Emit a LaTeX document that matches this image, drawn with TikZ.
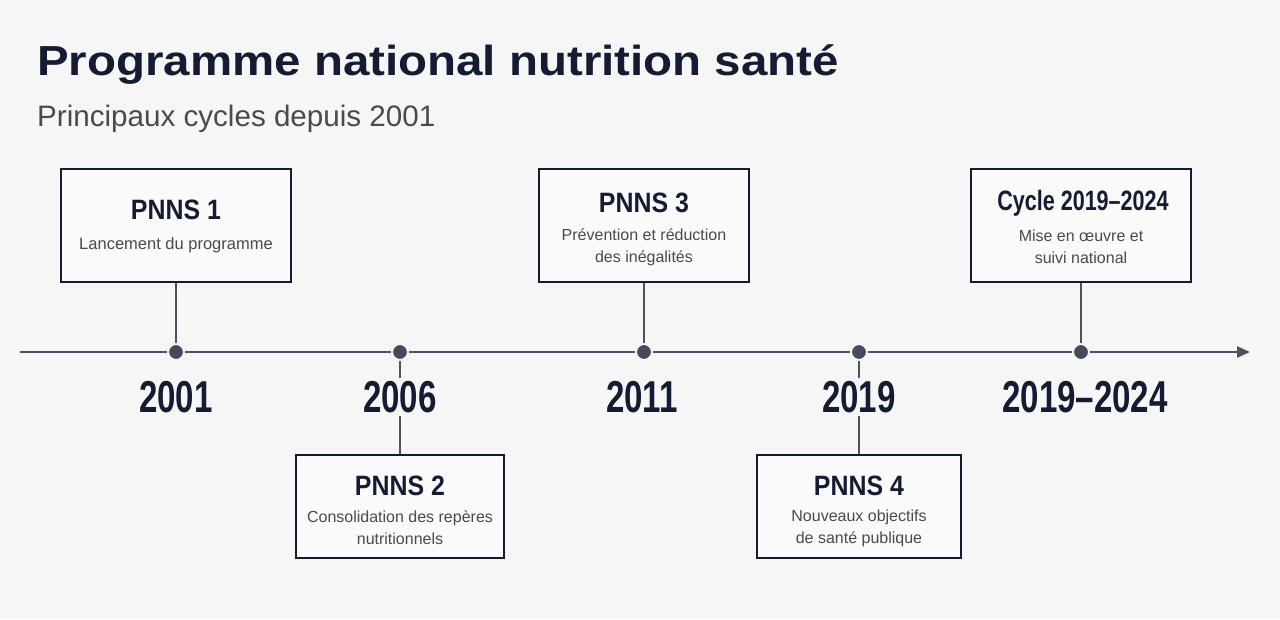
\documentclass[tikz,border=0pt]{standalone}
\usepackage{fontspec}
\setmainfont{Liberation Sans}
\newfontfamily\headfont{Liberation Sans}[FakeStretch=1.13]
\newfontfamily\condfont{Liberation Sans}[FakeStretch=0.89]
\newfontfamily\narrowfont{Liberation Sans}[FakeStretch=0.77]
\newfontfamily\yearfont{Liberation Sans}[FakeStretch=0.74]
\usetikzlibrary{arrows.meta}
\definecolor{bg}{HTML}{F6F6F7}
\definecolor{boxbg}{HTML}{FAFAFB}
\definecolor{navy}{HTML}{141B33}
\definecolor{greytext}{HTML}{4A4A4C}
\definecolor{axisgrey}{HTML}{4D525C}
\definecolor{dotgrey}{HTML}{454B5E}
\tikzset{
  box/.style={draw=navy, line width=1.8pt, fill=boxbg, inner sep=0pt},
  boxtitle/.style={text=navy, font=\condfont\bfseries\fontsize{28}{32}\selectfont, inner sep=0pt},
  boxtext/.style={text=greytext, font=\fontsize{16}{22}\selectfont, align=center, inner sep=0pt},
  year/.style={text=navy, font=\yearfont\bfseries\fontsize{44.7}{50}\selectfont, fill=bg, inner sep=3pt},
  dot/.style={circle, fill=dotgrey, draw=bg, line width=2pt, minimum size=16pt, inner sep=0pt},
  axis/.style={draw=axisgrey, line width=2.6pt},
  link/.style={draw=axisgrey, line width=1.8pt}
}
\begin{document}
\begin{tikzpicture}[x=1pt,y=-1pt]
\fill[bg] (0,0) rectangle (1280,619);
\node[anchor=base west, text=navy, font=\headfont\bfseries\fontsize{42}{50}\selectfont, inner sep=0pt] (title) at (37,75) {Programme national nutrition santé};
\node[anchor=base west, text=greytext, font=\fontsize{29.6}{36}\selectfont, inner sep=0pt] (subtitle) at (37,126) {Principaux cycles depuis 2001};

% upper boxes
\node[box, minimum width=230, minimum height=113] (b1) at (176,225.5) {};
\node[boxtitle] (t1) at (176,210) {PNNS 1};
\node[boxtext, font=\fontsize{16.5}{22}\selectfont] (s1) at (176,245) {Lancement du programme};

\node[box, minimum width=210, minimum height=113] (b3) at (644,225.5) {};
\node[boxtitle] (t3) at (644,203) {PNNS 3};
\node[boxtext] (s3) at (644,247) {Prévention et réduction\\des inégalités};

\node[box, minimum width=220, minimum height=113] (b5) at (1081,225.5) {};
\node[boxtitle, font=\narrowfont\bfseries\fontsize{28}{32}\selectfont] (t5) at (1083,203) {Cycle 2019–2024};
\node[boxtext] (s5) at (1081,247) {Mise en œuvre et\\suivi national};

% lower boxes
\node[box, minimum width=208, minimum height=103] (b2) at (400,506.5) {};
\node[boxtitle] (t2) at (400,486) {PNNS 2};
\node[boxtext] (s2) at (400,528) {Consolidation des repères\\nutritionnels};

\node[box, minimum width=204, minimum height=103] (b4) at (859,506.5) {};
\node[boxtitle] (t4) at (859,486) {PNNS 4};
\node[boxtext] (s4) at (859,528) {Nouveaux objectifs\\de santé publique};

% timeline
\foreach \i/\x in {1/176, 2/400, 3/644, 4/859, 5/1081}
  \coordinate (p\i) at (\x,352);
\coordinate (start) at (20,352);
\coordinate (end) at (1250,352);
\draw[axis, -{Triangle[length=13pt,width=11pt]}] (start) -- (end);

\draw[link] (b1.south) -- (p1);
\draw[link] (b3.south) -- (p3);
\draw[link] (b5.south) -- (p5);
\draw[link] (p2) -- (b2.north);
\draw[link] (p4) -- (b4.north);

\foreach \i/\x/\yr in {1/176/2001, 2/400/2006, 3/642/2011, 4/859/2019, 5/1085/2019–2024}
  \node[year] (y\i) at (\x,397) {\yr};
\foreach \i in {1,...,5}
  \node[dot] (d\i) at (p\i) {};
\end{tikzpicture}
\end{document}
